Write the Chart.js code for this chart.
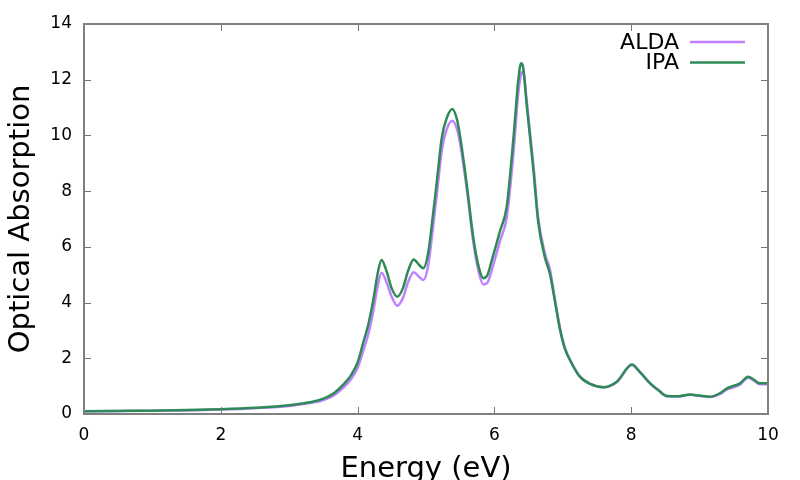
<!DOCTYPE html>
<html>
<head>
<meta charset="utf-8">
<script src="https://cdn.jsdelivr.net/npm/chart.js@4"></script>
<style>
  html, body { margin: 0; padding: 0; background: #fff; }
  canvas { display: block; }
</style>
</head>
<body>
<canvas id="chart" width="800" height="480"></canvas>
<script>
// energies (eV), shared by both curves
const energy = [0, 0.5, 1.0, 1.5, 2.0, 2.5, 3.0, 3.3, 3.5, 3.65, 3.8, 3.9, 4.0, 4.08, 4.16, 4.23, 4.29, 4.35,
  4.42, 4.5, 4.58, 4.66, 4.74, 4.82, 4.9, 4.96, 5.03, 5.1, 5.17, 5.23, 5.3, 5.385, 5.45, 5.5, 5.6, 5.69, 5.77,
  5.84, 5.9, 5.96, 6.08, 6.18, 6.28, 6.35, 6.39, 6.42, 6.47, 6.57, 6.64, 6.74, 6.81, 6.89, 6.96, 7.03,
  7.13, 7.25, 7.4, 7.59, 7.79, 8.01, 8.13, 8.27, 8.4, 8.52, 8.7, 8.86, 9.0, 9.15, 9.3, 9.4, 9.59, 9.71,
  9.8, 9.88, 10.0];

const ipa = [0.10, 0.11, 0.12, 0.14, 0.17, 0.22, 0.31, 0.42, 0.55, 0.74, 1.08, 1.38, 1.85, 2.54, 3.25, 4.1, 5.0, 5.53,
  5.15, 4.5, 4.21, 4.5, 5.15, 5.55, 5.35, 5.23, 5.75, 7.1, 8.6, 9.9, 10.6, 10.95, 10.6, 9.95, 8.16, 6.36, 5.29,
  4.87, 5.0, 5.5, 6.55, 7.44, 9.95, 12.0, 12.59, 12.45, 11.15, 8.76, 6.9, 5.6, 5.05, 3.97, 3.02, 2.35,
  1.82, 1.34, 1.08, 0.96, 1.16, 1.78, 1.50, 1.12, 0.85, 0.65, 0.64, 0.70, 0.66, 0.62, 0.75, 0.92, 1.10, 1.34,
  1.22, 1.10, 1.10];

const alda = [0.10, 0.11, 0.12, 0.13, 0.16, 0.21, 0.29, 0.39, 0.50, 0.67, 0.97, 1.24, 1.65, 2.25, 2.9, 3.7, 4.55, 5.07,
  4.75, 4.2, 3.89, 4.15, 4.75, 5.09, 4.92, 4.81, 5.3, 6.65, 8.15, 9.45, 10.2, 10.53, 10.25, 9.7, 8.0, 6.2, 5.1,
  4.65, 4.72, 5.15, 6.2, 7.05, 9.4, 11.55, 12.2, 12.29, 11.3, 8.95, 7.05, 5.75, 5.2, 4.05, 3.08, 2.38,
  1.83, 1.34, 1.08, 0.96, 1.15, 1.76, 1.49, 1.11, 0.84, 0.64, 0.63, 0.69, 0.65, 0.61, 0.72, 0.88, 1.05, 1.30,
  1.19, 1.07, 1.07];

const xTicks = [0, 2, 4, 6, 8, 10];
const yTicks = [0, 2, 4, 6, 8, 10, 12, 14];

const FONT = "'DejaVu Sans', sans-serif";
const toXY = (vals) => vals.map((v, i) => ({ x: energy[i], y: v }));

// gnuplot-like frame with inward ticks on all four sides
const framePlugin = {
  id: "frame",
  afterDatasetsDraw(chart) {
    const { ctx, chartArea: a, scales } = chart;
    const len = 7;
    ctx.save();
    ctx.strokeStyle = "#777";
    ctx.lineWidth = 1;
    ctx.beginPath();
    xTicks.forEach((t) => {
      const px = Math.round(scales.x.getPixelForValue(t)) + 0.5;
      ctx.moveTo(px, a.bottom); ctx.lineTo(px, a.bottom - len);
      ctx.moveTo(px, a.top); ctx.lineTo(px, a.top + len);
    });
    yTicks.forEach((t) => {
      const py = Math.round(scales.y.getPixelForValue(t)) + 0.5;
      ctx.moveTo(a.left, py); ctx.lineTo(a.left + len, py);
      ctx.moveTo(a.right, py); ctx.lineTo(a.right - len, py);
    });
    ctx.stroke();
    ctx.lineWidth = 2;
    ctx.strokeStyle = "#808080";
    ctx.strokeRect(a.left, a.top, a.right - a.left, a.bottom - a.top);
    ctx.restore();
  },
  afterDraw(chart) {
    // key: text right-aligned, line sample after it
    const { ctx } = chart;
    ctx.save();
    ctx.font = "22px " + FONT;
    ctx.textAlign = "right";
    ctx.textBaseline = "middle";
    chart.data.datasets.forEach((ds, i) => {
      const y = 42 + i * 20.5;
      ctx.fillStyle = "#000";
      ctx.fillText(ds.label, 679, y + 1);
      ctx.strokeStyle = ds.borderColor;
      ctx.lineWidth = 2.5;
      ctx.beginPath();
      ctx.moveTo(690, y);
      ctx.lineTo(745, y);
      ctx.stroke();
    });
    ctx.restore();
  },
};

new Chart(document.getElementById("chart"), {
  type: "line",
  data: {
    datasets: [
      {
        label: "ALDA",
        data: toXY(alda),
        borderColor: "#c080ff",
        borderWidth: 2.5,
        pointRadius: 0,
        fill: false,
        cubicInterpolationMode: "monotone",
        order: 2,
      },
      {
        label: "IPA",
        data: toXY(ipa),
        borderColor: "#2e8b57",
        borderWidth: 2.5,
        pointRadius: 0,
        fill: false,
        cubicInterpolationMode: "monotone",
        order: 1,
      },
    ],
  },
  options: {
    responsive: false,
    animation: false,
    devicePixelRatio: 1,
    layout: { padding: { top: 24, right: 32, left: 0, bottom: 0 } },
    plugins: { legend: { display: false }, tooltip: { enabled: false } },
    scales: {
      x: {
        type: "linear",
        min: 0,
        max: 10,
        grid: { display: false, drawTicks: false },
        border: { display: false },
        afterBuildTicks: (s) => { s.ticks = xTicks.map((v) => ({ value: v })); },
        afterFit: (s) => { s.height = 66; },
        ticks: { color: "#000", font: { family: FONT, size: 17 }, padding: 11, maxRotation: 0 },
        title: {
          display: true,
          text: "Energy (eV)",
          color: "#000",
          font: { family: FONT, size: 29 },
          padding: { top: 0, bottom: -7 },
        },
      },
      y: {
        min: 0,
        max: 14,
        grid: { display: false, drawTicks: false },
        border: { display: false },
        afterBuildTicks: (s) => { s.ticks = yTicks.map((v) => ({ value: v })); },
        afterFit: (s) => { s.width = 84; },
        ticks: { color: "#000", font: { family: FONT, size: 17 }, padding: 12 },
        title: {
          display: true,
          text: "Optical Absorption",
          color: "#000",
          font: { family: FONT, size: 29 },
          padding: { top: 4, bottom: 0 },
        },
      },
    },
  },
  plugins: [framePlugin],
});
</script>
</body>
</html>
